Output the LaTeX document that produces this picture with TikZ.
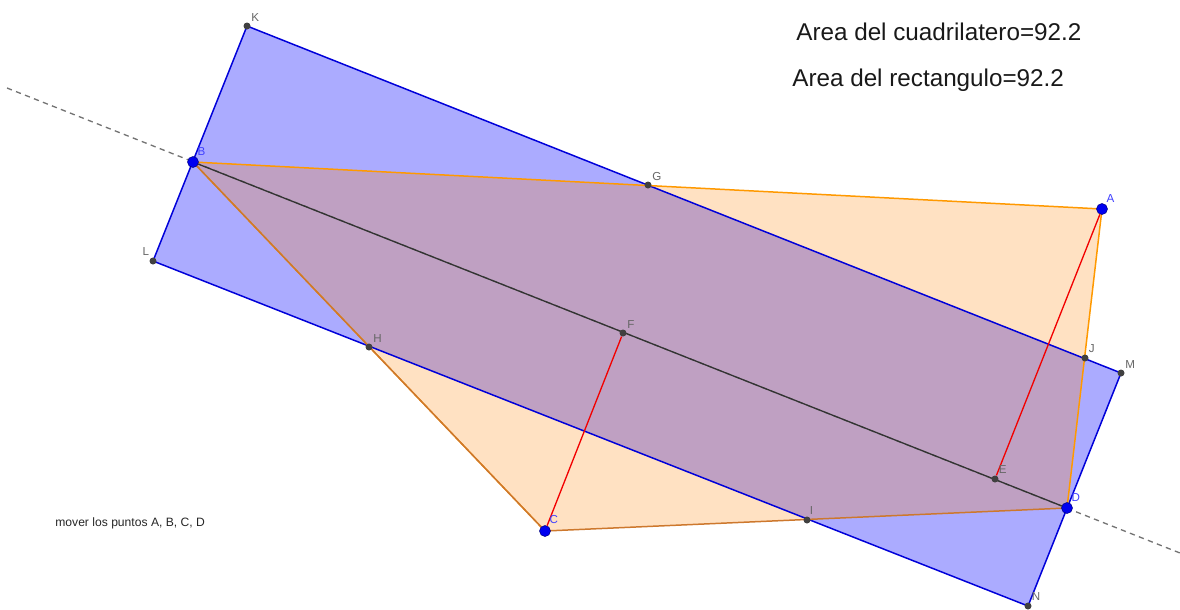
\documentclass[tikz,border=0pt]{standalone}
\usepackage{fontspec}
\setmainfont{Liberation Sans}
\usetikzlibrary{backgrounds}
\definecolor{qbrown}{RGB}{205,120,45}
\definecolor{ptblue}{RGB}{0,0,240}
\begin{document}
\begin{tikzpicture}[
  x=0.02cm, y=-0.02cm,
  every node/.style={font=\fontsize{6.6}{8}\selectfont},
  glbl/.style={text=black!60, inner sep=0.5pt, label distance=0.5pt},
  blbl/.style={text=blue!75!white, inner sep=0.5pt, label distance=0.5pt},
  gpt/.style={circle, fill=black!75, inner sep=0pt, minimum size=0.14cm},
  bpt/.style={circle, fill=ptblue, draw=blue!50!black, line width=0.3pt, inner sep=0pt, minimum size=0.22cm},
  rectfill/.style={fill=blue, fill opacity=0.33},
  rectedge/.style={draw=blue!85!black, line width=0.85pt},
  quadfill/.style={fill=orange, fill opacity=0.24},
  titletxt/.style={font=\fontsize{13.8}{16}\selectfont, text=black!90, inner sep=0pt, anchor=west}
]
\useasboundingbox (0,0) rectangle (1180,609);
\node[gpt, label={[glbl]50:K}] (K) at (247,26) {};
\node[gpt, label={[glbl]50:M}] (M) at (1121,373) {};
\node[gpt, label={[glbl]55:N}] (N) at (1028,606) {};
\node[gpt, label={[glbl]125:L}] (L) at (153,261) {};
\node[gpt, label={[glbl]50:G}] (G) at (648,185) {};
\node[gpt, label={[glbl]50:H}] (H) at (369,347) {};
\node[gpt, label={[glbl]50:F}] (F) at (623,333) {};
\node[gpt, label={[glbl]55:J}] (J) at (1085,358) {};
\node[gpt, label={[glbl]55:E}] (E) at (995,479) {};
\node[gpt, label={[glbl]70:I}] (I) at (807,520) {};
\node[bpt, label={[blbl]60:A}] (A) at (1102,209) {};
\node[bpt, label={[blbl]60:B}] (B) at (193,162) {};
\node[bpt, label={[blbl]60:C}] (C) at (545,531) {};
\node[bpt, label={[blbl]60:D}] (D) at (1067,508) {};
\coordinate (w) at (7,88);
\coordinate (e) at (1180,553);
\begin{scope}[on background layer]
\fill[rectfill] (K.center) -- (M.center) -- (N.center) -- (L.center) -- cycle;
\fill[quadfill] (B.center) -- (A.center) -- (D.center) -- (C.center) -- cycle;
\draw[black!55, line width=0.75pt, dash pattern=on 3pt off 2.5pt] (w) -- (e);
\draw[rectedge] (K.center) -- (M.center) -- (N.center) -- (L.center) -- cycle;
\draw[orange!80!yellow, line width=0.85pt] (C.center) -- (B.center) -- (A.center) -- (D.center);
\draw[qbrown, line width=0.85pt] (B.center) -- (C.center) -- (D.center);
\draw[black!80, line width=0.75pt] (B) -- (D);
\draw[red!95!black, line width=0.75pt] (C) -- (F);
\draw[red!95!black, line width=0.75pt] (A) -- (E);
\end{scope}
\node[titletxt] (acuad) at (796,32) {Area del cuadrilatero=92.2};
\node[titletxt] (arect) at (792,80) {Area del rectangulo=92.2};
\node[font=\fontsize{6.9}{8}\selectfont, text=black!85, inner sep=0pt, anchor=west] (mover) at (55,523) {mover los puntos A, B, C, D};
\end{tikzpicture}
\end{document}
